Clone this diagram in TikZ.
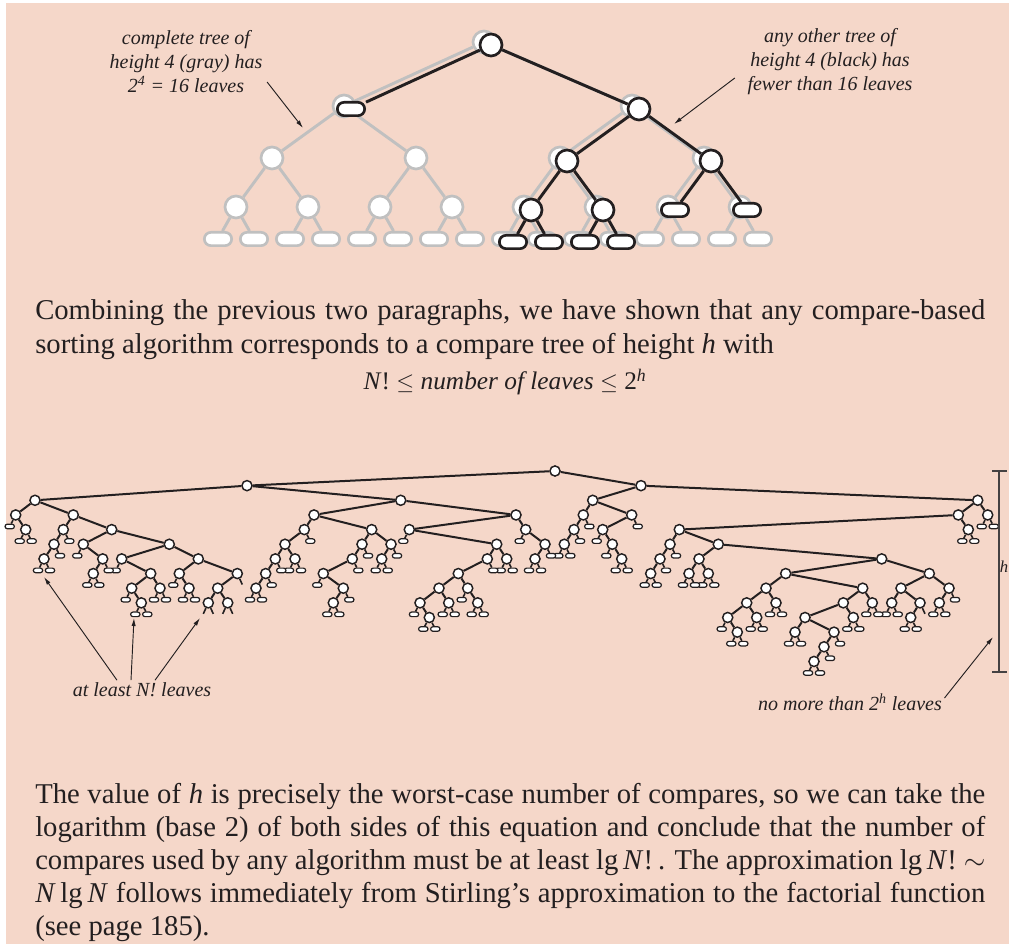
\documentclass[tikz,border=0pt]{standalone}
\usepackage{fontspec}
\setmainfont{Liberation Serif}
\usepackage{tikz}
\usetikzlibrary{arrows.meta,calc}
\definecolor{peach}{RGB}{245,215,201}
\definecolor{lgray}{RGB}{192,192,192}
\definecolor{ink}{RGB}{35,31,32}

\begin{document}
\begin{tikzpicture}[x=0.75pt,y=-0.75pt,
    bn/.style={circle,draw=ink,fill=white,line width=1.1pt,inner sep=0pt,minimum size=7.6pt},
    lf/.style={rectangle,rounded corners=1.7pt,draw=ink,fill=white,line width=0.9pt,inner sep=0pt,minimum width=7pt,minimum height=3.4pt},
    be/.style={ink,line width=1.5pt},
    gnode/.style={circle,draw=lgray,fill=white,line width=2pt,inner sep=0pt,minimum size=16.5pt},
    gleaf/.style={rectangle,rounded corners=5pt,draw=lgray,fill=white,line width=2pt,inner sep=0pt,minimum width=20.5pt,minimum height=10pt},
    knode/.style={gnode,draw=ink},
    kleaf/.style={gleaf,draw=ink},
    gedge/.style={lgray,line width=2.2pt},
    kedge/.style={ink,line width=2.2pt},
    note/.style={font=\fontsize{15}{18}\selectfont\itshape,align=center,text=ink},
    arr/.style={-{Latex[length=6pt,width=3.2pt]},ink,line width=0.7pt},
    body/.style={font=\fontsize{21.5}{24}\selectfont,text=ink,anchor=base west,inner sep=0pt}]
  \useasboundingbox (0,0) rectangle (1009,944);
  \fill[white] (0,0) rectangle (1009,944);
  \fill[peach] (6,3) rectangle (1009,944);

  % complete tree (gray) and a shorter tree (black) on top of it
  \node[gnode] (gy1) at (484,42) {};
  \foreach \L/\yy in {1/106,2/158,3/207}{
    \pgfmathtruncatemacro\nk{2^\L-1}
    \foreach \k in {0,...,\nk}{
      \pgfmathtruncatemacro\i{2^\L+\k}
      \node[gnode] (gy\i) at ({200+36*2^(4-\L)*(\k+0.5)},\yy) {};
    }
  }
  \foreach \k in {0,...,15}{
    \pgfmathtruncatemacro\i{16+\k}
    \node[gleaf] (gy\i) at (218+36*\k,239) {};
  }
  \foreach \i in {2,...,31}{
    \pgfmathtruncatemacro\j{\i/2}
    \draw[gedge] (gy\j) -- (gy\i);
  }
  \foreach \i in {1,3,6,7,12,13}
    \node[knode] (bk\i) at ($(gy\i)+(7,3)$) {};
  \foreach \i in {2,14,15,24,25,26,27}
    \node[kleaf] (bk\i) at ($(gy\i)+(7,3)$) {};
  \foreach \i in {2,3,6,7,12,13,14,15,24,25,26,27}{
    \pgfmathtruncatemacro\j{\i/2}
    \draw[kedge] (bk\j) -- (bk\i);
  }

  \node[note] (lt) at (186,62) {complete tree of\\height 4 (gray) has\\2\textsuperscript{4} = 16 leaves};
  \node[note] (rt) at (830,62) {any other tree of\\height 4 (black) has\\fewer than 16 leaves};
  \coordinate (lt-tip) at (303,128);
  \coordinate (rt-tip) at (674,124);
  \draw[arr] ($(lt.east)+(0,20)$) -- (lt-tip);
  \draw[arr] ($(rt.west)+(-8,16)$) -- (rt-tip);

  % text
  \node[body] (p1) at (35,320) {\makebox[712.5pt][s]{Combining the previous two paragraphs, we have shown that any compare-based}};
  \node[body] (p2) at (35,354) {sorting algorithm corresponds to a compare tree of height \textit{h} with};
  \node[body,font=\fontsize{19}{24}\selectfont,anchor=base] (eq) at (505,390) {\textit{N}!\ $\leq$ \textit{number of leaves} $\leq$ 2\textsuperscript{\textit{h}}};

  % big compare tree
  \node[bn] (R) at (555,471) {};
  \foreach \n/\x/\d/\p in {A/247/1/R, B/641/1/R, A1/35/2/A, A2/400.7/2/A,
      a/15.7/3/A1, a1/25.7/4/a, b/73.3/3/A1, c/63.3/4/b, c1/54/5/c, c2/44/6/c1,
      e/111.7/4/b, e1/83.3/5/e, e2/102.7/6/e1, e3/93.3/7/e2,
      f/169.3/5/e, f1/121.7/6/f, f2/150.7/7/f1, f3/131.7/8/f2, f5/141.3/9/f3, f4/160/8/f2,
      g/198.3/6/f, g1/179.3/7/g, g3/189/8/g1, g2/237.3/7/g, g4/217.7/8/g2, g5/208.3/9/g4, g6/227.7/9/g4,
      h/314/3/A2, h1/304.3/4/h, h3/285/5/h1, h4/275.3/6/h3, h6/265.7/7/h4, h7/256/8/h6, h5/295/6/h3,
      h2/371.7/4/h, h8/362/5/h2, h10/352.3/6/h8, h11/323.3/7/h10, h12/343.3/8/h11, h13/333.3/9/h12,
      h9/391/5/h2, h14/381.7/6/h9,
      k/516/3/A2, k1/409.3/4/k, k3/496.7/5/k1, k4/487.3/6/k3, k5/506.7/6/k3, k6/458.3/7/k4,
      k7/439/8/k6, k9/420/9/k7, k11/429.3/10/k9, k10/448.7/9/k7, k8/467.7/8/k6, k12/477.7/9/k8,
      k2/525.7/4/k, k13/545/5/k2, k14/535/6/k13,
      B1/592.7/2/B, B2/977.7/2/B,
      m/583.3/3/B1, m1/574/4/m, m2/564.3/5/m1, n/631.7/3/B1, n1/602.7/4/n, n2/612.3/5/n1, n3/621.7/6/n2,
      p/958.3/3/B2, q/987.7/3/B2, p1/679.3/4/p, p2/968.3/4/p,
      s/670/5/p1, s1/660/6/s, s2/650.7/7/s1, t/718.3/5/p1, t1/699/6/t, t2/689/7/t1, t3/708.3/7/t1,
      u/881.7/6/t, v/785.7/7/u, v1/766/8/v, v3/746.7/9/v1, v5/727.7/10/v3, v7/737.3/11/v5,
      v6/756.7/10/v3, v4/776/9/v1,
      v2/862.7/8/v, v8/843.3/9/v2, v10/805/10/v8, v12/795/11/v10, v13/834/11/v10, v14/824/12/v13,
      v15/814/13/v14, v11/853.3/10/v8, v9/872.3/9/v2,
      w/929.3/7/u, w1/901/8/w, w3/891.7/9/w1, w4/920/9/w1, w5/910.7/10/w4, w2/949/8/w, w6/939.3/9/w2}{
    \node[bn] (\n) at (\x,{471+14.65*\d}) {};
    \draw[be] (\p) -- (\n);
  }
  \foreach \p in {a,a1,c2,e1,e3,f1,f3,f5,f4,g1,g3,h7,h5,h11,h13,h14,k1,k5,k9,k11,k10,k8,k12,k2,k14,
      m2,n1,n2,n3,q,p2,s2,t2,t3,v5,v7,v6,v4,v12,v15,v11,v9,w3,w5,w6}{
    \node[lf] (\p-l) at ($(\p)+(-6,11.5)$) {};
    \draw[be,line width=1.2pt] (\p) -- (\p-l);
  }
  \foreach \p in {a1,c,c1,c2,e2,e3,f5,f4,g3,h1,h4,h6,h7,h5,h8,h10,h12,h13,h9,h14,k5,k4,k11,k10,k12,
      k13,k14,m,m1,m2,n,n3,q,p2,s,s1,s2,t2,t3,v7,v6,v4,v12,v13,v14,v15,v11,v9,w3,w5,w2,w6}{
    \node[lf] (\p-r) at ($(\p)+(6,11.5)$) {};
    \draw[be,line width=1.2pt] (\p) -- (\p-r);
  }
  \foreach \p in {g5,g6}{
    \coordinate (\p-gl) at ($(\p)+(-5,11)$);
    \draw[be,line width=1.2pt] (\p) -- (\p-gl);
  }
  \foreach \p in {g2,g5,g6,w4}{
    \coordinate (\p-gr) at ($(\p)+(5,11)$);
    \draw[be,line width=1.2pt] (\p) -- (\p-gr);
  }

  % height bracket
  \coordinate (ht) at (999,471);
  \coordinate (hb) at (999,672);
  \draw[ink!85,line width=1pt] (ht) -- (hb);
  \draw[ink!85,line width=1pt] ($(ht)+(-7,0)$) -- ($(ht)+(8,0)$);
  \draw[ink!85,line width=1pt] ($(hb)+(-7,0)$) -- ($(hb)+(8,0)$);
  \node[note,font=\fontsize{12.5}{14}\selectfont\itshape,anchor=east,inner sep=0pt] (hl) at (1008.5,567) {h};

  \node[note] (lb) at (142,690) {at least N! leaves};
  \coordinate (lb-t1) at (44,577);
  \coordinate (lb-t2) at (134,618);
  \coordinate (lb-t3) at (200,618);
  \draw[arr] ($(lb.north)+(-25,2)$) -- (lb-t1);
  \draw[arr] ($(lb.north)+(-11,2)$) -- (lb-t2);
  \draw[arr] ($(lb.north)+(13,2)$) -- (lb-t3);
  \node[note] (lr) at (850,702) {no more than 2\textsuperscript{h} leaves};
  \coordinate (lr-tip) at (993,637);
  \draw[arr] ($(lr.east)+(-2,-4)$) -- (lr-tip);

  \node[body] (q1) at (35,803) {\makebox[712.5pt][s]{The value of \textit{h} is precisely the worst-case number of compares, so we can take the}};
  \node[body] (q2) at (35,836) {\makebox[712.5pt][s]{logarithm (base 2) of both sides of this equation and conclude that the number of}};
  \node[body] (q3) at (35,869) {\makebox[712.5pt][s]{compares used by any algorithm must be at least lg\,\textit{N}!\,. The approximation lg\,\textit{N}!\ $\sim$}};
  \node[body] (q4) at (35,902) {\makebox[712.5pt][s]{\textit{N}\,lg\,\textit{N}\ follows immediately from Stirling’s approximation to the factorial function}};
  \node[body] (q5) at (35,935) {(see page 185).};
\end{tikzpicture}
\end{document}
